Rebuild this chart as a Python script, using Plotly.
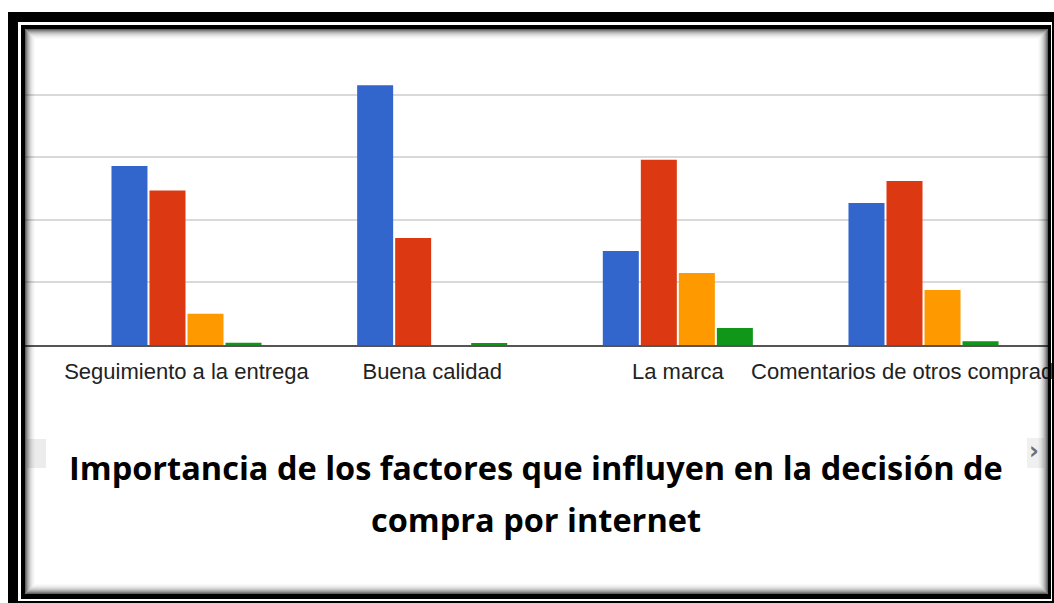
import plotly.graph_objects as go

# Categories and the four series (one value per category)
categorias = ["Seguimiento a la entrega", "Buena calidad", "La marca",
              "Comentarios de otros compradores"]
serie_1 = [28.6, 41.5, 15.0, 22.7]
serie_2 = [24.7, 17.1, 29.6, 26.2]
serie_3 = [5.0, 0.0, 11.5, 8.8]
serie_4 = [0.35, 0.3, 2.7, 0.6]
nombres = ["Serie 1", "Serie 2", "Serie 3", "Serie 4"]
colores = ["#3366CC", "#DC3912", "#FF9900", "#109618"]

titulo_1 = "Importancia de los factores que influyen en la decisión de"
titulo_2 = "compra por internet"

W, H = 1054, 603


def fx(p):
    return p / W


def fy(p):
    return 1 - p / H


posiciones = list(range(len(categorias)))

fig = go.Figure()
for nombre, valores, color in zip(nombres, [serie_1, serie_2, serie_3, serie_4], colores):
    fig.add_trace(go.Bar(x=posiciones, y=valores, name=nombre,
                         marker=dict(color=color, line=dict(width=0))))

# pixel geometry of the plotting area
plot_left, plot_right = 25, 1048
plot_top, plot_bottom = 35, 345
centro0, paso = 186.5, 245.67
px_por_unidad = 6.26

shapes = []
# scroll-hint boxes at both sides
shapes.append(dict(type="rect", xref="paper", yref="paper", layer="above",
                   x0=fx(27), x1=fx(46), y0=fy(468), y1=fy(439),
                   fillcolor="#ececec", line=dict(width=0)))
shapes.append(dict(type="rect", xref="paper", yref="paper", layer="above",
                   x0=fx(1027), x1=fx(1044), y0=fy(468), y1=fy(438),
                   fillcolor="#f0f0f0", line=dict(width=0)))

# inset shadow inside the inner frame
alphas = [0.62, 0.5, 0.39, 0.3, 0.22, 0.16, 0.11, 0.07, 0.04, 0.02]
for i, a in enumerate(alphas):
    shapes.append(dict(type="rect", xref="paper", yref="paper", layer="above",
                       x0=fx(25 + i + 0.5), x1=fx(1048 - i - 0.5),
                       y0=fy(594 - i - 0.5), y1=fy(29 + i + 0.5),
                       fillcolor="rgba(0,0,0,0)",
                       line=dict(color=f"rgba(0,0,0,{a})", width=1)))


def banda(x0, y0, x1, y1):
    shapes.append(dict(type="rect", xref="paper", yref="paper", layer="above",
                       x0=fx(x0), x1=fx(x1), y0=fy(y1), y1=fy(y0),
                       fillcolor="black", line=dict(width=0)))


# inner frame
banda(21, 25, 1051, 29)
banda(21, 25, 25, 599)
banda(1048, 25, 1051, 599)
banda(21, 594, 1051, 599)
# outer frame
banda(8, 12, 1054, 22)
banda(8, 12, 18, 603)
banda(1052, 12, 1054, 603)
banda(8, 601, 1054, 603)

fuente_titulo = dict(family="Open Sans", size=32.5, color="black", weight="bold")
annotations = [
    dict(text=titulo_1, xref="paper", yref="paper", x=fx(536), y=fy(467),
         xanchor="center", yanchor="middle", showarrow=False, font=fuente_titulo),
    dict(text=titulo_2, xref="paper", yref="paper", x=fx(536), y=fy(519),
         xanchor="center", yanchor="middle", showarrow=False, font=fuente_titulo),
    dict(text="›", xref="paper", yref="paper", x=fx(1034), y=fy(451),
         xanchor="center", yanchor="middle", showarrow=False,
         font=dict(family="DejaVu Sans", size=24, color="#6e6e6e", weight="bold")),
]

fig.update_layout(
    width=W, height=H,
    margin=dict(l=0, r=0, t=0, b=0),
    paper_bgcolor="white", plot_bgcolor="white",
    barmode="group", bargap=0.381, bargroupgap=0.053,
    showlegend=False,
    shapes=shapes,
    annotations=annotations,
    xaxis=dict(
        domain=[fx(plot_left), fx(plot_right)],
        range=[(plot_left - centro0) / paso, (plot_right - centro0) / paso],
        tickmode="array", tickvals=posiciones, ticktext=categorias,
        tickangle=0, ticks="", showgrid=False, zeroline=False,
        ticklabeloverflow="allow", ticklabelstandoff=6,
        showline=True, linecolor="#555555", linewidth=2,
        tickfont=dict(family="Liberation Sans, Arial", size=22, color="#222222"),
        automargin=False, fixedrange=True,
    ),
    yaxis=dict(
        domain=[fy(plot_bottom), fy(plot_top)],
        range=[0, (plot_bottom - plot_top) / px_por_unidad],
        dtick=10, showticklabels=False, ticks="",
        showgrid=True, gridcolor="#d9d9d9", gridwidth=2,
        zeroline=False, automargin=False, fixedrange=True,
    ),
)

fig.write_html("out.html")
